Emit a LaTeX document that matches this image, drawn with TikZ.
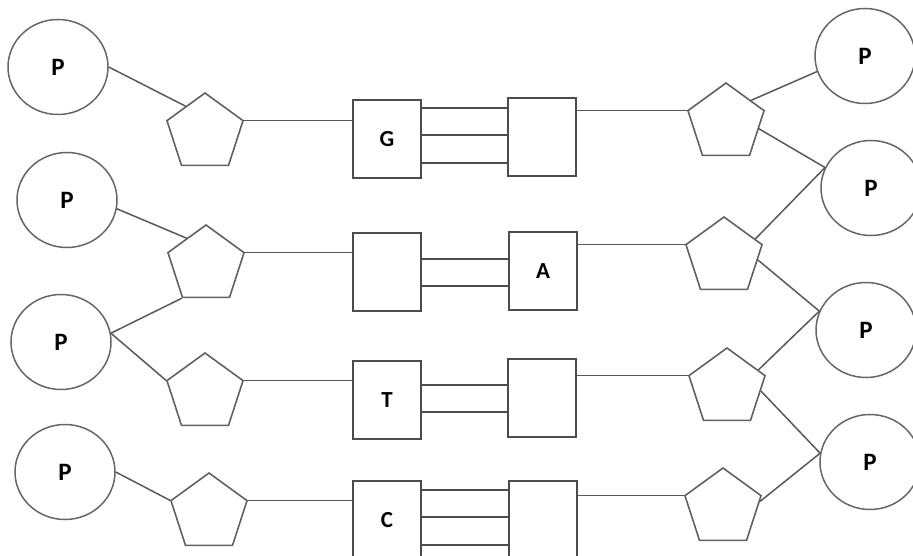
\documentclass[tikz,border=0pt]{standalone}
\usepackage{fontspec}
\setmainfont{Carlito}
\usetikzlibrary{shapes.geometric}

\begin{document}
\begin{tikzpicture}[x=1pt, y=-1pt,
    fosfato/.style = {ellipse, draw=black!60, line width=1.5pt, minimum width=100pt,
                      minimum height=95pt, inner sep=0pt, font=\fontsize{25}{25}\selectfont\bfseries},
    azucar/.style  = {regular polygon, regular polygon sides=5, draw=black!62,
                      line width=1.6pt, minimum size=80pt, inner sep=0pt},
    base/.style    = {rectangle, draw=black!70, line width=1.9pt, minimum width=68pt,
                      minimum height=78pt, inner sep=0pt, font=\fontsize{23}{23}\selectfont\bfseries},
    enlace/.style  = {draw=black!65, line width=1.5pt},
    puente/.style  = {draw=black!70, line width=1.7pt},
]
\useasboundingbox (0,0) rectangle (913,556);
\clip (0,0) rectangle (913,556);

% Fosfatos izquierda
\node[fosfato] (p1) at (58,67)  {P};
\node[fosfato] (p2) at (67,200) {P};
\node[fosfato] (p3) at (61,342) {P};
\node[fosfato] (p4) at (65,472) {P};

% Fosfatos derecha
\node[fosfato] (p5) at (865,56)  {P};
\node[fosfato] (p6) at (871,188) {P};
\node[fosfato] (p7) at (866,330) {P};
\node[fosfato] (p8) at (870,462) {P};

% Azucares
\node[azucar] (pl1) at (205,133) {};
\node[azucar] (pl2) at (206,265) {};
\node[azucar] (pl3) at (205,393) {};
\node[azucar] (pl4) at (209,513) {};
\node[azucar] (pr1) at (726,123) {};
\node[azucar] (pr2) at (724,257) {};
\node[azucar] (pr3) at (727,388) {};
\node[azucar] (pr4) at (723,508) {};

% Bases
\node[base] (gl) at (387,139) {G};
\node[base] (gr) at (542,137) {};
\node[base] (al) at (387,272) {};
\node[base] (ar) at (543,271) {A};
\node[base] (tl) at (387,400) {T};
\node[base] (tr) at (542,398) {};
\node[base] (cl) at (387,520) {C};
\node[base] (cr) at (543,520) {};

% Puentes de hidrogeno
\foreach \dy in {-31,-4,24}
  \draw[puente] (gl.east) ++(0,\dy) coordinate (b) -- (b -| gr.west);
\foreach \dy in {-13,14}
  \draw[puente] (al.east) ++(0,\dy) coordinate (b) -- (b -| ar.west);
\foreach \dy in {-15,12}
  \draw[puente] (tl.east) ++(0,\dy) coordinate (b) -- (b -| tr.west);
\foreach \dy in {-30,-3,25}
  \draw[puente] (cl.east) ++(0,\dy) coordinate (b) -- (b -| cr.west);

% Azucar -> base
\draw[enlace] (pl1.corner 5) -- (pl1.corner 5 -| gl.west);
\draw[enlace] (pl2.corner 5) -- (pl2.corner 5 -| al.west);
\draw[enlace] (pl3.corner 5) -- (pl3.corner 5 -| tl.west);
\draw[enlace] (pl4.corner 5) -- (pl4.corner 5 -| cl.west);
\draw[enlace] (gr.east |- pr1.corner 2) -- (pr1.corner 2);
\draw[enlace] (ar.east |- pr2.corner 2) -- (pr2.corner 2);
\draw[enlace] (tr.east |- pr3.corner 2) -- (pr3.corner 2);
\draw[enlace] (cr.east |- pr4.corner 2) -- (pr4.corner 2);

% Fosfato -> azucar, izquierda
\draw[enlace] (p1.east) -- (pl1.side 1);
\draw[enlace] (p2.-10)  -- (pl2.side 1);
\draw[enlace] (p3.10)   -- (pl2.corner 3);
\draw[enlace] (p3.10)   -- (pl3.corner 2);
\draw[enlace] (p4.east) -- (pl4.corner 2);

% Fosfato -> azucar, derecha
\draw[enlace] (p5.198) -- (pr1.42);
\draw[enlace] (pr1.-10) -- (p6.156);
\draw[enlace] (pr2.30)  -- (p6.156);
\draw[enlace] (pr2.-5)  -- (p7.158);
\draw[enlace] (pr3.30)  -- (p7.158);
\draw[enlace] (pr3.-5)  -- (p8.170);
\draw[enlace] (pr4.10)  -- (p8.170);

\end{tikzpicture}
\end{document}
